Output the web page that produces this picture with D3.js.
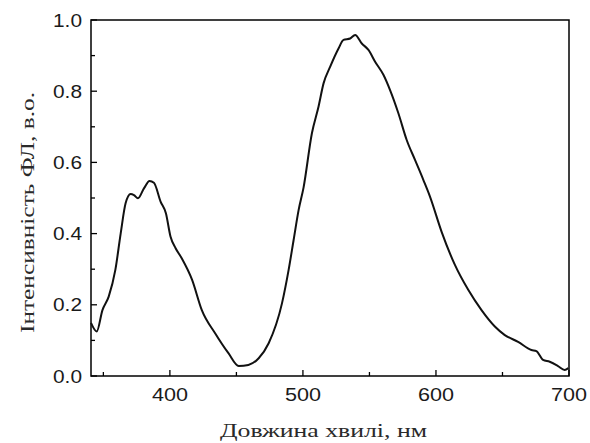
<!DOCTYPE html>
<html>
<head>
<meta charset="utf-8">
<script src="https://cdn.jsdelivr.net/npm/d3@7"></script>
<style>
  body { margin: 0; background: #fff; }
  .title { font-family: "Liberation Serif", "Times New Roman", serif; font-size: 19px; fill: #2a2a2a; }
</style>
</head>
<body>
<div id="chart"></div>
<script>
// ---- data ----
var wavelength = [340.7, 345, 349.3, 354, 359, 363, 366.7, 370.5, 373, 376, 380.5, 384.7, 388, 393, 397,
  400.5, 404.3, 409, 416.7, 424, 434, 444, 451.75, 459, 466.75, 474.25, 484.25, 489.25, 493, 496.75,
  500.5, 506.75, 511.75, 515.5, 520.5, 526.75, 530.5, 535.5, 539.25, 544.25, 549.25, 554.25, 560.5,
  565.5, 571.75, 578, 584.25, 590.5, 595.5, 604.25, 614.25, 624.25, 634.25, 644.25, 651.75, 661.75,
  671.75, 675.5, 680.5, 685.5, 691.75, 696.75, 699.5];
var intensity = [0.149, 0.125, 0.185, 0.223, 0.298, 0.40, 0.485, 0.511, 0.508, 0.499, 0.527, 0.548, 0.543, 0.49, 0.457,
  0.391, 0.359, 0.33, 0.27, 0.185, 0.12, 0.064, 0.028, 0.031, 0.05, 0.092, 0.204, 0.298, 0.382, 0.466,
  0.53, 0.682, 0.757, 0.822, 0.869, 0.92, 0.944, 0.948, 0.958, 0.934, 0.916, 0.883, 0.846,
  0.803, 0.738, 0.663, 0.607, 0.551, 0.504, 0.405, 0.312, 0.242, 0.185, 0.139, 0.115, 0.096,
  0.073, 0.070, 0.045, 0.040, 0.028, 0.017, 0.022];

var xTicks = [400, 500, 600, 700],
    xMinor = [350, 450, 550, 650],
    yTicks = [0, 0.2, 0.4, 0.6, 0.8, 1.0],
    yMinor = [0.1, 0.3, 0.5, 0.7, 0.9];

var xLabel = "Довжина хвилі, нм",
    yLabel = "Інтенсивність ФЛ, в.о.";

// ---- set-up ----
var W = 590, H = 443;
var margin = {left: 91, top: 20, right: 21, bottom: 67},
    width = W - margin.left - margin.right,
    height = H - margin.top - margin.bottom;

var svg = d3.select("#chart").append("svg")
    .attr("width", W)
    .attr("height", H);

var x = d3.scaleLinear().domain([340.7, 700]).range([margin.left, margin.left + width]);
var y = d3.scaleLinear().domain([0, 1]).range([margin.top + height, margin.top]);

// frame
svg.append("rect")
    .attr("x", x(340.7)).attr("y", y(1))
    .attr("width", width).attr("height", height)
    .style("fill", "none").style("stroke", "#000").style("stroke-width", "1.5px");

// ticks pointing inwards
svg.selectAll("line.xt")
    .data(xTicks.concat(xMinor))
    .enter().append("line")
    .attr("class", "xt")
    .attr("x1", function(d) { return x(d); }).attr("x2", function(d) { return x(d); })
    .attr("y1", y(0))
    .attr("y2", function(d) { return y(0) - (xTicks.indexOf(d) >= 0 ? 6 : 4); })
    .style("stroke", "#000").style("stroke-width", "1.3px");

svg.selectAll("line.yt")
    .data(yTicks.concat(yMinor))
    .enter().append("line")
    .attr("class", "yt")
    .attr("y1", function(d) { return y(d); }).attr("y2", function(d) { return y(d); })
    .attr("x1", x(340.7))
    .attr("x2", function(d) { return x(340.7) + (yTicks.indexOf(d) >= 0 ? 6 : 4); })
    .style("stroke", "#000").style("stroke-width", "1.3px");

// tick labels (the reference lettering is a bit wider than Arial)
svg.selectAll("text.xl")
    .data(xTicks)
    .enter().append("text")
    .attr("class", "xl")
    .attr("x", function(d) { return x(d); })
    .attr("y", y(0) + 25)
    .attr("text-anchor", "middle")
    .attr("textLength", 36).attr("lengthAdjust", "spacingAndGlyphs")
    .style("font-family", "Liberation Sans, Arial, sans-serif").style("font-size", "19px").style("fill", "#1a1a1a")
    .text(d3.format("d"));

svg.selectAll("text.yl")
    .data(yTicks)
    .enter().append("text")
    .attr("class", "yl")
    .attr("x", x(340.7) - 9)
    .attr("y", function(d) { return y(d); })
    .attr("dy", "0.35em")
    .attr("text-anchor", "end")
    .attr("textLength", 29).attr("lengthAdjust", "spacingAndGlyphs")
    .style("font-family", "Liberation Sans, Arial, sans-serif").style("font-size", "19px").style("fill", "#1a1a1a")
    .text(d3.format(".1f"));

// curve
var data = wavelength.map(function(d, i) { return [d, intensity[i]]; });

var line = d3.line()
    .x(function(d) { return x(d[0]); })
    .y(function(d) { return y(d[1]); })
    .curve(d3.curveMonotoneX);

svg.append("path")
    .datum(data)
    .attr("d", line)
    .style("fill", "none")
    .style("stroke", "#111")
    .style("stroke-width", "2px")
    .style("stroke-linejoin", "round");

// titles
svg.append("text")
    .attr("class", "title")
    .attr("x", 323.5).attr("y", 437)
    .attr("text-anchor", "middle")
    .attr("textLength", 207).attr("lengthAdjust", "spacingAndGlyphs")
    .text(xLabel);

svg.append("text")
    .attr("class", "title")
    .attr("transform", "translate(34,212.5) rotate(-90)")
    .attr("text-anchor", "middle")
    .attr("textLength", 241).attr("lengthAdjust", "spacingAndGlyphs")
    .text(yLabel);
</script>
</body>
</html>
